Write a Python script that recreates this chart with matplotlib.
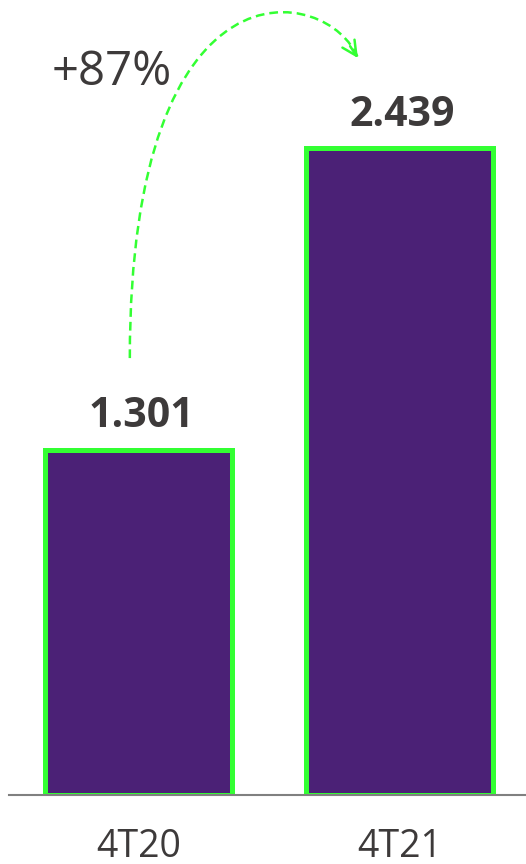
import matplotlib.pyplot as plt
from matplotlib.path import Path
from matplotlib.patches import PathPatch

plt.rcParams['font.family'] = ['Open Sans', 'DejaVu Sans']

periods = ['4T20', '4T21']
values = [1301, 2439]
value_labels = ['1.301', '2.439']
growth_label = '+87%'

fill_color = '#4b2176'
edge_color = '#33ff33'
text_color = '#3d3a3a'

fig = plt.figure(figsize=(5.26, 8.64), dpi=100)
ax = fig.add_axes([9 / 526, 69 / 864, 1 - 9 / 526, 1 - 69 / 864])

x = range(len(periods))
ax.bar(x, values, width=0.715, color=fill_color, edgecolor=edge_color,
       linewidth=3.6, zorder=1)

# value labels above bars
for xi, v, lab in zip(x, values, value_labels):
    ax.annotate(lab, (xi, v), xytext=(2, 9), textcoords='offset points',
                ha='center', va='bottom', fontsize=29.5, fontweight='bold',
                color=text_color)

ax.set_xlim(-0.496, 1.485)
ax.set_ylim(0, 2997)
ax.set_xticks(list(x))
ax.set_xticklabels(periods, fontsize=27, color=text_color)
ax.tick_params(axis='x', length=0, pad=24)
ax.set_yticks([])
for s in ['top', 'left', 'right']:
    ax.spines[s].set_visible(False)
ax.spines['bottom'].set_color('#808080')
ax.spines['bottom'].set_linewidth(1.5)

# curved dashed arrow from first bar to second
x0, y0 = -0.033, values[0] * 1.266
x3, y3 = 0.841, values[1] * 1.139
curve = Path([(x0, y0), (x0, 3200), (0.733, 3050), (x3, y3)],
             [Path.MOVETO, Path.CURVE4, Path.CURVE4, Path.CURVE4])
ax.add_patch(PathPatch(curve, fill=False, edgecolor=edge_color, linewidth=1.8,
                       linestyle=(0, (3.5, 2)), clip_on=False, zorder=3))
ax.annotate('', xy=(x3, y3), xytext=(x3 - 0.03, y3 + 45),
            arrowprops=dict(arrowstyle='->', color=edge_color, lw=1.8,
                            mutation_scale=26, shrinkA=0, shrinkB=0),
            annotation_clip=False)

ax.text(-0.331, 2676, growth_label, ha='left', va='baseline', fontsize=34,
        color=text_color)

fig.savefig('out.png', dpi=100)
